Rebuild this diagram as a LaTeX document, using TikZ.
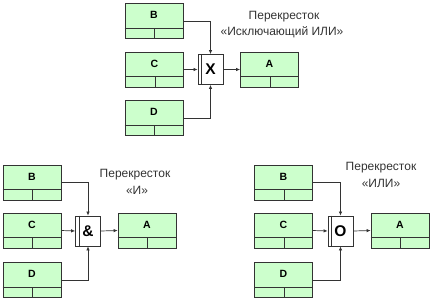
\documentclass[tikz,border=0pt]{standalone}
\usepackage{fontspec}
\setmainfont{Liberation Sans}
\usetikzlibrary{calc,arrows.meta}
\definecolor{boxgreen}{HTML}{CCFFCC}
\definecolor{linegray}{HTML}{333333}
\tikzset{
  ubox/.style={draw=linegray, fill=boxgreen, minimum width=58pt, minimum height=35pt, inner sep=0pt, line width=0.8pt},
  junc/.style={draw=linegray, fill=white, minimum width=25pt, minimum height=30pt, inner sep=0pt, line width=0.8pt, font=\fontsize{15.5}{15.5}\selectfont\bfseries},
  conn/.style={draw=linegray, line width=0.7pt, -{Latex[length=4pt,width=3.5pt]}},
  caption/.style={font=\fontsize{12}{13}\selectfont, text=black!80, inner sep=0pt},
  boxlabel/.style={font=\fontsize{10.5}{10.5}\selectfont\bfseries, inner sep=0pt}
}
\newcommand\ubox[4]{%
  \node[ubox] (#1) at (#2,#3) {};
  \draw[draw=linegray, line width=0.8pt] ($(#1.south west)+(0,-11)$) -- ($(#1.south east)+(0,-11)$);
  \draw[draw=linegray, line width=0.8pt] ($(#1.south west)+(30,0)$) -- ($(#1.south west)+(30,-11)$);
  \node[boxlabel] (#1t) at ($(#1.north)+(0,12)$) {#4};
}
\newcommand\ujunc[4]{%
  \node[junc] (#1) at (#2,#3) {#4};
  \draw[draw=linegray, line width=0.8pt] ($(#1.north west)+(4,0)$) -- ($(#1.south west)+(4,0)$);
}
\begin{document}
\begin{tikzpicture}[x=1pt,y=-1pt]
\useasboundingbox (0,0) rectangle (430,300);
% top group
\ubox{tB}{154}{21}{B}
\ubox{tC}{154.5}{69.5}{C}
\ubox{tD}{154}{118}{D}
\ubox{tA}{269.5}{69.5}{A}
\ujunc{tJ}{210.5}{69.5}{X}
\draw[conn] (tB.east) -| (tJ.north);
\draw[conn] (tC.east) -- (tJ.west);
\draw[conn] (tD.east) -| (tJ.south);
\draw[conn] (tJ.east) -- (tA.west);
\node[caption] (tL1) at (284,17) {Перекресток};
\node[caption] (tL2) at (282,32) {«Исключающий ИЛИ»};
% bottom-left group
\ubox{lB}{32}{182.5}{B}
\ubox{lC}{32}{230.5}{C}
\ubox{lD}{32}{280}{D}
\ubox{lA}{147}{230.5}{A}
\ujunc{lJ}{88}{231}{\&}
\draw[conn] (lB.east) -| (lJ.north);
\draw[conn] (lC.east) -- (lJ.west);
\draw[conn] (lD.east) -| (lJ.south);
\draw[conn] (lJ.east) -- (lA.west);
\node[caption] (lL1) at (135,175) {Перекресток};
\node[caption] (lL2) at (137,190) {«И»};
% bottom-right group
\ubox{rB}{283.5}{182.5}{B}
\ubox{rC}{283.5}{230.5}{C}
\ubox{rD}{283.5}{280}{D}
\ubox{rA}{400}{230.5}{A}
\ujunc{rJ}{340.5}{231}{O}
\draw[conn] (rB.east) -| (rJ.north);
\draw[conn] (rC.east) -- (rJ.west);
\draw[conn] (rD.east) -| (rJ.south);
\draw[conn] (rJ.east) -- (rA.west);
\node[caption] (rL1) at (381,168) {Перекресток};
\node[caption] (rL2) at (381,183) {«ИЛИ»};
\end{tikzpicture}
\end{document}
